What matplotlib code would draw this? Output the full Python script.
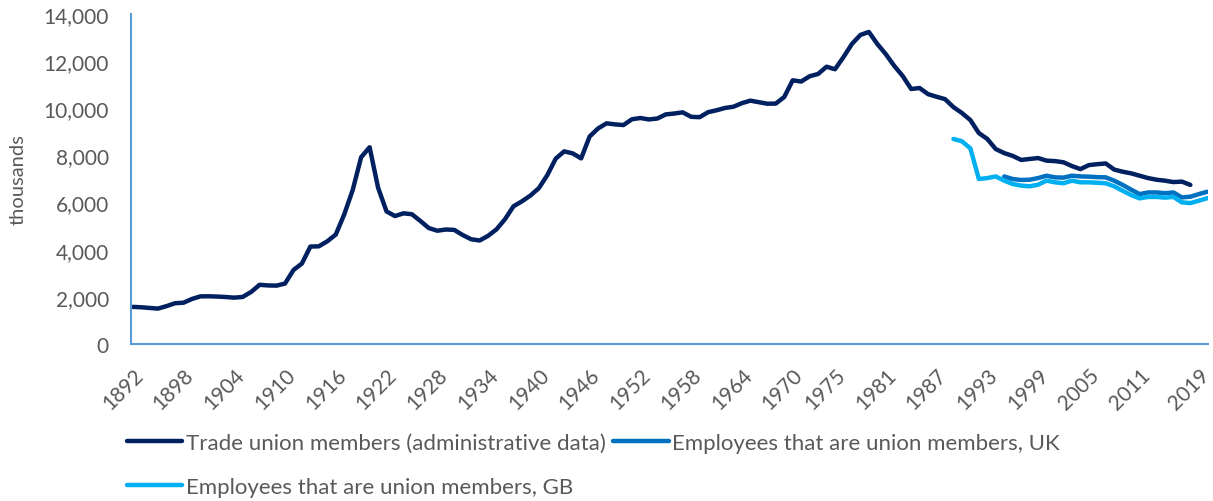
import matplotlib.pyplot as plt
import matplotlib.transforms as mtransforms
from matplotlib.ticker import FuncFormatter

plt.rcParams['font.family'] = ['Lato', 'DejaVu Sans']

# Trade union members (administrative data), thousands, 1892-2017
admin_years = list(range(1892, 2018))
admin_members = [
    1576, 1559, 1530, 1504, 1608, 1731, 1752, 1911, 2022, 2025,   # 1892-1901
    2013, 1994, 1967, 1997, 2210, 2513, 2485, 2477, 2565, 3139,   # 1902-1911
    3416, 4135, 4145, 4359, 4644, 5499, 6533, 7926, 8348, 6633,   # 1912-1921
    5625, 5429, 5544, 5506, 5219, 4919, 4806, 4858, 4842, 4624,   # 1922-1931
    4444, 4392, 4590, 4867, 5295, 5842, 6053, 6298, 6613, 7165,   # 1932-1941
    7867, 8174, 8087, 7875, 8803, 9145, 9362, 9318, 9289, 9535,   # 1942-1951
    9588, 9527, 9566, 9741, 9778, 9829, 9639, 9623, 9835, 9916,   # 1952-1961
    10014, 10067, 10218, 10325, 10259, 10194, 10200, 10479, 11187, 11135,  # 1962-1971
    11359, 11456, 11764, 11656, 12170, 12730, 13112, 13240, 12730, 12300,  # 1972-1981
    11800, 11370, 10820, 10860, 10600, 10490, 10390, 10050, 9800, 9500,    # 1982-1991
    8950, 8700, 8270, 8100, 7980, 7810, 7850, 7890, 7780, 7760,   # 1992-2001
    7710, 7550, 7420, 7590, 7630, 7660, 7400, 7310, 7240, 7140,   # 2002-2011
    7040, 6970, 6930, 6870, 6890, 6750,                           # 2012-2017
]

# Employees that are union members, UK (1995-2019)
uk_years = list(range(1995, 2020))
uk_members = [
    7110, 7000, 6960, 6970, 7040, 7140, 7070, 7060, 7140, 7110,
    7100, 7080, 7070, 6930, 6750, 6550, 6360, 6430, 6430, 6400,
    6430, 6220, 6250, 6360, 6460,
]

# Employees that are union members, GB (1989-2019)
gb_years = list(range(1989, 2020))
gb_members = [
    8700, 8600, 8300, 7000, 7040, 7110, 6930, 6790, 6720, 6690,
    6760, 6930, 6860, 6820, 6930, 6860, 6860, 6840, 6820, 6690,
    6500, 6320, 6180, 6240, 6240, 6210, 6240, 6010, 5980, 6080,
    6190,
]

tick_years = [1892, 1898, 1904, 1910, 1916, 1922, 1928, 1934, 1940, 1946, 1952,
              1958, 1964, 1970, 1975, 1981, 1987, 1993, 1999, 2005, 2011, 2019]

fig = plt.figure(figsize=(12.13, 5.02), dpi=100)
ax = fig.add_axes([0.108, 0.3127, 0.888, 0.6574])

h1, = ax.plot(admin_years, admin_members, color='#002060', lw=3.2,
              solid_capstyle='round', solid_joinstyle='round',
              label='Trade union members (administrative data)')
h2, = ax.plot(uk_years, uk_members, color='#0070C0', lw=3.2,
              solid_capstyle='round', solid_joinstyle='round',
              label='Employees that are union members, UK')
h3, = ax.plot(gb_years, gb_members, color='#00B0F0', lw=3.2,
              solid_capstyle='round', solid_joinstyle='round',
              label='Employees that are union members, GB')

ax.set_xlim(1891.8, 2019.1)
ax.set_ylim(0, 14000)
ax.set_yticks(range(0, 14001, 2000))
ax.yaxis.set_major_formatter(FuncFormatter(lambda v, p: f'{int(v):,}'))
ax.set_xticks(tick_years)
ax.set_xticklabels([str(y) for y in tick_years], rotation=45, ha='right',
                   va='top', rotation_mode='anchor')

for s in ['top', 'right']:
    ax.spines[s].set_visible(False)
for s in ['left', 'bottom']:
    ax.spines[s].set_color('#5B9BD5')
    ax.spines[s].set_linewidth(1.5)

ax.tick_params(axis='both', length=0, labelsize=15, colors='#595959')
ax.tick_params(axis='x', pad=15)
ax.tick_params(axis='y', pad=16)
ax.set_ylabel('thousands', fontsize=14.5, color='#595959', labelpad=12)

# keep the last year label inside the figure edge
last = ax.get_xticklabels()[-1]
last.set_transform(last.get_transform() +
                   mtransforms.ScaledTranslation(-8 / 100, 0, fig.dpi_scale_trans))

leg = fig.legend([h1, h3, h2], [h1.get_label(), h3.get_label(), h2.get_label()],
                 loc='upper left', bbox_to_anchor=(0.1045, 0.135),
                 ncol=2, frameon=False, fontsize=16, handlelength=2.5,
                 handletextpad=0.15, columnspacing=0.35, labelspacing=1.05,
                 borderpad=0, borderaxespad=0)
for t in leg.get_texts():
    t.set_color('#595959')

fig.savefig('out.png', dpi=100)
